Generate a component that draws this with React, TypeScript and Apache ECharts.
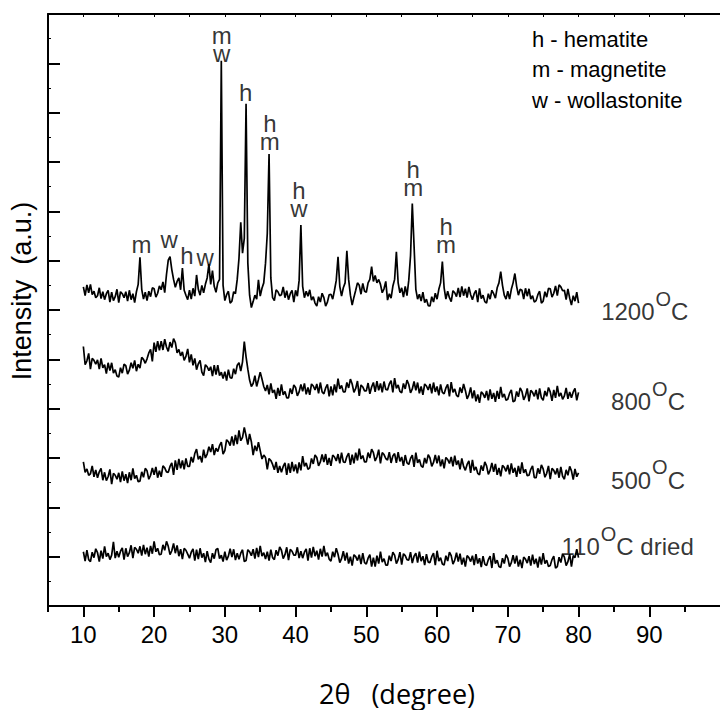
import React, { useEffect, useRef } from "react";
import * as echarts from "echarts";

// XRD scans: 2θ from 10° with a 0.25° step; intensities in arbitrary (stacked) units
const scanStart = 10;
const scanStep = 0.25;

const dried110 = [
  1.10,0.91,1.13,0.94, 0.90,1.09,0.98,1.16, 1.08,0.90,1.12,0.96, 1.21,1.00,1.07,0.94, 1.03,1.30,0.97,1.11,
  0.99,1.11,1.18,0.94, 1.17,1.00,1.08,1.23, 0.97,1.19,1.15,1.07, 1.21,1.02,1.24,1.05, 1.18,1.00,1.22,1.06,
  1.31,1.10,1.17,1.04, 1.05,1.24,1.13,1.31, 1.21,1.04,1.12,1.27, 1.07,1.23,1.01,1.15, 0.95,1.17,1.13,1.05,
  0.97,1.09,1.16,0.92, 1.14,0.95,1.17,0.98, 1.07,0.89,1.11,0.95, 0.88,1.07,0.96,1.14, 1.17,0.96,1.03,0.90,
  1.10,0.93,1.01,1.16, 0.99,1.15,0.93,1.07, 0.95,1.07,1.14,0.90, 0.92,1.14,1.10,1.02, 1.15,0.96,1.18,0.99,
  1.22,1.01,1.08,0.95, 1.10,0.92,1.14,0.98, 0.94,1.13,1.02,1.20, 1.13,0.96,1.04,1.19, 0.93,1.15,1.11,1.03,
  1.03,1.19,0.97,1.11, 0.97,1.09,1.16,0.92, 1.17,0.98,1.20,1.01, 1.12,0.94,1.16,1.00, 1.22,1.01,1.08,0.95,
  0.91,1.10,0.99,1.17, 1.05,0.88,0.96,1.11, 0.92,1.08,0.86,1.00, 0.82,1.04,1.00,0.92, 1.04,0.85,1.07,0.88,
  0.85,0.97,1.04,0.80, 0.98,0.80,1.02,0.86, 1.10,0.89,0.96,0.83, 0.83,1.02,0.91,1.09, 1.03,0.86,0.94,1.09,
  0.84,1.06,1.02,0.94, 0.93,1.09,0.87,1.01, 1.07,0.88,1.10,0.91, 1.01,0.83,1.05,0.89, 0.88,1.00,1.07,0.83,
  1.12,0.91,0.98,0.85, 0.83,1.02,0.91,1.09, 1.02,0.85,0.93,1.08, 0.90,1.06,0.84,0.98, 0.80,1.02,0.98,0.90,
  1.02,0.83,1.05,0.86, 0.97,0.79,1.01,0.85, 0.82,0.94,1.01,0.77, 1.07,0.86,0.93,0.80, 0.78,0.97,0.86,1.04,
  0.97,0.80,0.88,1.03, 0.86,1.02,0.80,0.94, 0.77,0.99,0.95,0.87, 1.01,0.82,1.04,0.85, 0.96,0.78,1.00,0.84,
  1.07,0.86,0.93,0.80, 0.82,0.94,1.01,0.77, 0.80,0.99,0.88,1.06, 0.99,0.82,0.90,1.05, 0.80,1.02,0.98,1.15,
  0.98,
];

const fired500 = [
  2.92,2.71,2.78,2.65, 2.68,2.84,2.62,2.76, 2.60,2.72,2.79,2.55, 2.71,2.54,2.62,2.77, 2.47,2.69,2.65,2.57,
  2.70,2.51,2.73,2.54, 2.67,2.49,2.71,2.55, 2.79,2.58,2.65,2.52, 2.53,2.72,2.61,2.79, 2.74,2.57,2.65,2.80,
  2.66,2.82,2.60,2.74, 2.62,2.84,2.80,2.72, 2.71,2.83,2.90,2.66, 2.95,2.76,2.98,2.79, 2.95,2.77,2.99,2.83,
  2.83,3.02,2.91,3.09, 3.18,2.97,3.04,2.91, 3.17,3.00,3.08,3.23, 3.12,3.28,3.06,3.20, 3.13,3.25,3.32,3.08,
  3.15,3.37,3.33,3.25, 3.44,3.25,3.47,3.28, 3.56,3.35,3.42,3.62, 3.45,3.27,3.49,3.33, 3.06,3.25,3.14,3.32,
  3.15,2.98,3.06,3.01, 2.77,2.99,2.95,2.87, 2.76,2.92,2.70,2.84, 2.71,2.83,2.90,2.66, 2.89,2.70,2.92,2.73,
  2.87,2.69,2.91,2.75, 3.04,2.83,2.90,2.77, 2.80,2.99,2.88,3.06, 3.01,2.84,2.92,3.07, 2.92,3.08,2.86,3.00,
  2.84,3.06,3.02,2.94, 3.08,2.89,3.11,2.92, 2.91,3.03,3.10,2.86, 3.07,2.89,3.11,2.95, 3.19,2.98,3.05,2.92,
  2.92,3.11,3.00,3.18, 3.11,2.94,3.02,3.17, 2.89,3.11,3.07,2.99, 2.96,3.12,2.90,3.04, 3.09,2.90,3.12,2.93,
  3.02,2.84,3.06,2.90, 2.87,2.99,3.06,2.82, 3.11,2.90,2.97,2.84, 2.81,3.00,2.89,3.07, 3.00,2.83,2.91,3.06,
  2.89,3.05,2.83,2.97, 2.79,3.01,2.97,2.89, 3.02,2.83,3.05,2.86, 2.95,2.77,2.99,2.83, 2.75,2.87,2.94,2.70,
  2.96,2.75,2.82,2.69, 2.66,2.85,2.74,2.92, 2.84,2.67,2.75,2.90, 2.72,2.88,2.66,2.80, 2.63,2.85,2.81,2.73,
  2.86,2.67,2.89,2.70, 2.80,2.62,2.84,2.68, 2.91,2.70,2.77,2.64, 2.65,2.77,2.84,2.60, 2.60,2.79,2.68,2.86,
  2.78,2.61,2.69,2.84, 2.57,2.79,2.75,2.67, 2.79,2.60,2.82,2.63, 2.57,2.76,2.65,2.83, 2.74,2.56,2.78,2.62,
  2.70,
];

const fired800 = [
  5.26,4.89,4.97,5.12, 4.80,5.02,4.98,4.90, 4.99,4.80,5.02,4.83, 4.89,4.71,4.93,4.77, 4.93,4.72,4.79,4.66,
  4.64,4.83,4.72,4.90, 4.87,4.70,4.78,4.93, 4.82,4.98,4.76,4.90, 4.82,5.04,5.00,4.92, 5.01,5.13,5.20,4.96,
  5.34,5.15,5.37,5.18, 5.37,5.19,5.41,5.25, 5.16,5.35,5.24,5.42, 5.34,5.13,5.20,5.07, 5.15,4.98,5.06,5.21,
  4.94,5.10,4.88,5.02, 4.79,4.91,4.98,4.74, 4.67,4.89,4.85,4.77, 4.85,4.66,4.88,4.69, 4.88,4.67,4.74,4.61,
  4.75,4.57,4.79,4.63, 4.62,4.81,4.70,4.88, 4.93,4.76,4.95,5.36, 5.05,4.80,4.58,4.45, 4.51,4.67,4.45,4.59,
  4.74,4.60,4.45,4.36, 4.48,4.29,4.51,4.32, 4.38,4.20,4.42,4.26, 4.49,4.28,4.35,4.22, 4.22,4.41,4.30,4.48,
  4.43,4.26,4.34,4.49, 4.35,4.51,4.29,4.43, 4.28,4.50,4.46,4.38, 4.50,4.31,4.53,4.34, 4.30,4.42,4.49,4.25,
  4.45,4.27,4.49,4.33, 4.61,4.40,4.47,4.34, 4.34,4.53,4.42,4.60, 4.50,4.33,4.41,4.56, 4.26,4.48,4.44,4.36,
  4.36,4.52,4.30,4.44, 4.53,4.34,4.56,4.37, 4.51,4.33,4.55,4.39, 4.38,4.50,4.57,4.33, 4.62,4.41,4.48,4.35,
  4.32,4.51,4.40,4.58, 4.49,4.32,4.40,4.55, 4.37,4.53,4.31,4.45, 4.28,4.50,4.46,4.38, 4.50,4.31,4.53,4.34,
  4.45,4.27,4.49,4.33, 4.30,4.42,4.49,4.25, 4.54,4.33,4.40,4.27, 4.24,4.43,4.32,4.50, 4.37,4.20,4.28,4.43,
  4.21,4.37,4.15,4.29, 4.12,4.34,4.30,4.22, 4.36,4.17,4.39,4.20, 4.32,4.14,4.36,4.20, 4.44,4.23,4.30,4.17,
  4.19,4.31,4.38,4.14, 4.16,4.35,4.24,4.42, 4.35,4.18,4.26,4.41, 4.15,4.37,4.33,4.25, 4.38,4.19,4.41,4.22,
  4.17,4.36,4.25,4.43, 4.34,4.16,4.38,4.22, 4.46,4.25,4.32,4.19, 4.26,4.42,4.20,4.34, 4.22,4.34,4.41,4.17,
  4.33,
];

const fired1200 = [
  6.47,6.29,6.51,6.35, 6.52,6.31,6.38,6.25, 6.29,6.45,6.23,6.37, 6.21,6.33,6.40,6.16, 6.36,6.19,6.27,6.42,
  6.15,6.37,6.33,6.25, 6.37,6.18,6.40,6.21, 6.33,6.15,6.37,6.52, 7.07,6.42,6.22,6.36, 6.19,6.38,6.27,6.45,
  6.43,6.26,6.34,6.49, 6.41,6.57,6.35,6.72, 7.01,7.08,6.82,6.62, 6.46,6.58,6.65,6.41, 6.85,6.40,6.30,6.21,
  6.40,6.22,6.44,6.28, 6.71,6.42,6.30,6.50, 6.35,6.52,6.65,6.93, 6.52,6.80,6.48,6.36, 6.55,6.62,11.05,6.50,
  6.19,6.31,6.38,6.14, 6.18,6.37,6.33,6.62, 7.05,7.78,7.15,7.45, 10.18,6.95,6.30,6.05, 6.17,6.30,6.22,6.61,
  6.28,6.44,6.55,6.95, 7.55,9.16,6.65,6.25, 6.19,6.41,6.37,6.29, 6.31,6.47,6.25,6.39, 6.21,6.33,6.40,6.16,
  6.40,6.28,6.60,7.72, 6.48,6.25,6.38,6.28, 6.41,6.20,6.27,6.14, 6.08,6.27,6.16,6.34, 6.25,6.08,6.16,6.31,
  6.32,6.22,6.40,6.60, 7.08,6.48,6.28,6.45, 6.55,7.20,6.62,6.30, 6.10,6.26,6.40,6.55, 6.50,6.32,6.54,6.38,
  6.36,6.55,6.62,6.88, 6.58,6.70,6.55,6.62, 6.52,6.35,6.43,6.58, 6.20,6.33,6.24,6.48, 6.62,7.18,6.55,6.35,
  6.45,6.26,6.48,6.29, 6.60,7.10,8.16,7.30, 6.42,6.22,6.32,6.18, 6.36,6.15,6.22,6.09, 6.08,6.27,6.16,6.34,
  6.22,6.42,6.55,6.98, 6.45,6.22,6.38,6.25, 6.17,6.39,6.35,6.27, 6.45,6.26,6.48,6.29, 6.43,6.25,6.47,6.31,
  6.21,6.33,6.40,6.16, 6.44,6.23,6.30,6.17, 6.14,6.33,6.22,6.40, 6.33,6.24,6.45,6.55, 6.78,6.50,6.30,6.22,
  6.38,6.22,6.42,6.55, 6.74,6.48,6.30,6.42, 6.40,6.22,6.44,6.28, 6.43,6.22,6.29,6.16, 6.19,6.31,6.38,6.14,
  6.18,6.37,6.26,6.44, 6.43,6.26,6.34,6.49, 6.29,6.51,6.47,6.39, 6.40,6.21,6.43,6.24, 6.10,6.29,6.18,6.36,
  6.14,
];

// axis ticks
const majorTicks = [10, 20, 30, 40, 50, 60, 70, 80, 90];
const minorTicks = [5, 15, 25, 35, 45, 55, 65, 75, 85, 95];
const topTicks = [10, 15, 20, 25, 30, 35, 40, 45, 50, 55, 60, 65, 70, 75, 80, 85, 90, 95];

// phase marks over the 1200 °C peaks: [2θ, height, letters]
const peakMarks: [number, number, string][] = [
  [18.22, 7.32, "m"], [22.12, 7.43, "w"], [24.63, 7.10, "h"], [27.22, 7.07, "w"],
  [29.55, 11.38, "m\nw"],
  [32.93, 10.41, "h"],
  [36.36, 9.59, "h\nm"],
  [40.46, 8.25, "h\nw"],
  [56.63, 8.66, "h\nm"],
  [61.28, 7.51, "h\nm"],
];

// curve labels: [2θ, height, temperature, suffix]
const curveLabels: [number, number, string, string][] = [
  [83.2, 5.96, "1200", ""],
  [84.6, 4.14, "800", ""],
  [84.6, 2.55, "500", ""],
  [77.6, 1.2, "110", " dried"],
];

const legendLines = ["h - hematite", "m - magnetite", "w - wollastonite"];

const SANS = "'Liberation Sans', Arial, sans-serif";

function toPairs(vals: number[]) {
  return vals.map((v, i) => [scanStart + i * scanStep, v]);
}

export default function App() {
  const ref = useRef<HTMLDivElement>(null);
  useEffect(() => {
    if (!ref.current) return;
    const chart = echarts.init(ref.current, undefined, { renderer: "svg" });
    const lineSeries = [dried110, fired500, fired800, fired1200].map((vals, i) => ({
      type: "line",
      name: "s" + i,
      data: toPairs(vals),
      showSymbol: false,
      symbol: "none",
      lineStyle: { color: "#000", width: 1.7 },
      xAxisIndex: 0,
      yAxisIndex: 0,
      silent: true,
      z: 2,
    }));
    const option: any = {
      animation: false,
      grid: { left: 48, right: -10, top: 14, bottom: 104, containLabel: false },
      xAxis: [
        {
          type: "value", min: 5, max: 100, position: "bottom",
          axisLine: { show: true, onZero: false, lineStyle: { color: "#000", width: 2 } },
          axisTick: { show: true, inside: false, length: 11, customValues: majorTicks, lineStyle: { color: "#000", width: 2 } },
          axisLabel: { show: true, customValues: majorTicks, fontSize: 24, color: "#000", margin: 16, fontFamily: SANS },
          splitLine: { show: false },
        },
        {
          type: "value", min: 5, max: 100, position: "bottom",
          axisLine: { show: false, onZero: false },
          axisTick: { show: true, inside: false, length: 6, customValues: minorTicks, lineStyle: { color: "#000", width: 2 } },
          axisLabel: { show: false },
          splitLine: { show: false },
        },
        {
          type: "value", min: 5, max: 100, position: "top",
          axisLine: { show: true, onZero: false, lineStyle: { color: "#000", width: 2 } },
          axisTick: { show: true, inside: true, length: 3, customValues: topTicks, lineStyle: { color: "#000", width: 1 } },
          axisLabel: { show: false },
          splitLine: { show: false },
        },
      ],
      yAxis: {
        type: "value", min: 0, max: 12, interval: 1,
        axisLine: { show: true, onZero: false, lineStyle: { color: "#000", width: 2 } },
        axisTick: { show: true, inside: true, length: 12, lineStyle: { color: "#000", width: 2 } },
        minorTick: { show: true, splitNumber: 2, length: 3, lineStyle: { color: "#000", width: 1 } },
        axisLabel: { show: false },
        splitLine: { show: false },
      },
      series: [
        ...lineSeries,
        {
          type: "scatter",
          data: peakMarks.map(([x, y, t]) => ({ value: [x, y], name: t })),
          symbolSize: 1,
          itemStyle: { color: "rgba(0,0,0,0)" },
          silent: true,
          label: { show: true, position: "inside", formatter: "{b}", fontSize: 24, lineHeight: 18, color: "#000", fontFamily: SANS },
          z: 3,
        },
        {
          type: "scatter",
          data: curveLabels.map(([x, y, t, s]) => ({ value: [x, y], name: t, suffix: s })),
          symbolSize: 1,
          itemStyle: { color: "rgba(0,0,0,0)" },
          silent: true,
          label: {
            show: true,
            position: "inside",
            align: "left",
            formatter: (p: any) => `{t|${p.data.name}}{s|O}{t|C${p.data.suffix}}`,
            rich: {
              t: { fontSize: 24, lineHeight: 26, color: "#000", fontFamily: SANS },
              s: { fontSize: 20, lineHeight: 20, color: "#000", fontFamily: SANS, padding: [0, 0, 26, 1] },
            },
          },
          z: 3,
        },
      ],
      graphic: [
        {
          type: "text", x: 22, y: 291, rotation: Math.PI / 2,
          style: { text: "Intensity  (a.u.)", fontSize: 27, fontFamily: SANS, fill: "#000", textAlign: "center", textVerticalAlign: "middle", align: "center", verticalAlign: "middle" },
        },
        {
          type: "text", x: 397, y: 693,
          style: { text: "2θ   (degree)", fontSize: 27, fontFamily: "'Open Sans', 'Noto Sans', sans-serif", fill: "#000", textAlign: "center", textVerticalAlign: "middle", align: "center", verticalAlign: "middle" },
        },
        ...legendLines.map((t, i) => ({
          type: "text", x: 532, y: 39 + i * 30.5,
          style: { text: t, fontSize: 22, fontFamily: SANS, fill: "#000", textAlign: "left", textVerticalAlign: "middle", align: "left", verticalAlign: "middle" },
        })),
      ],
    };
    chart.setOption(option);
    return () => chart.dispose();
  }, []);
  return (
    <div
      ref={ref}
      style={{ position: "absolute", left: 0, top: 0, width: 720, height: 710, background: "#fff" }}
    />
  );
}
